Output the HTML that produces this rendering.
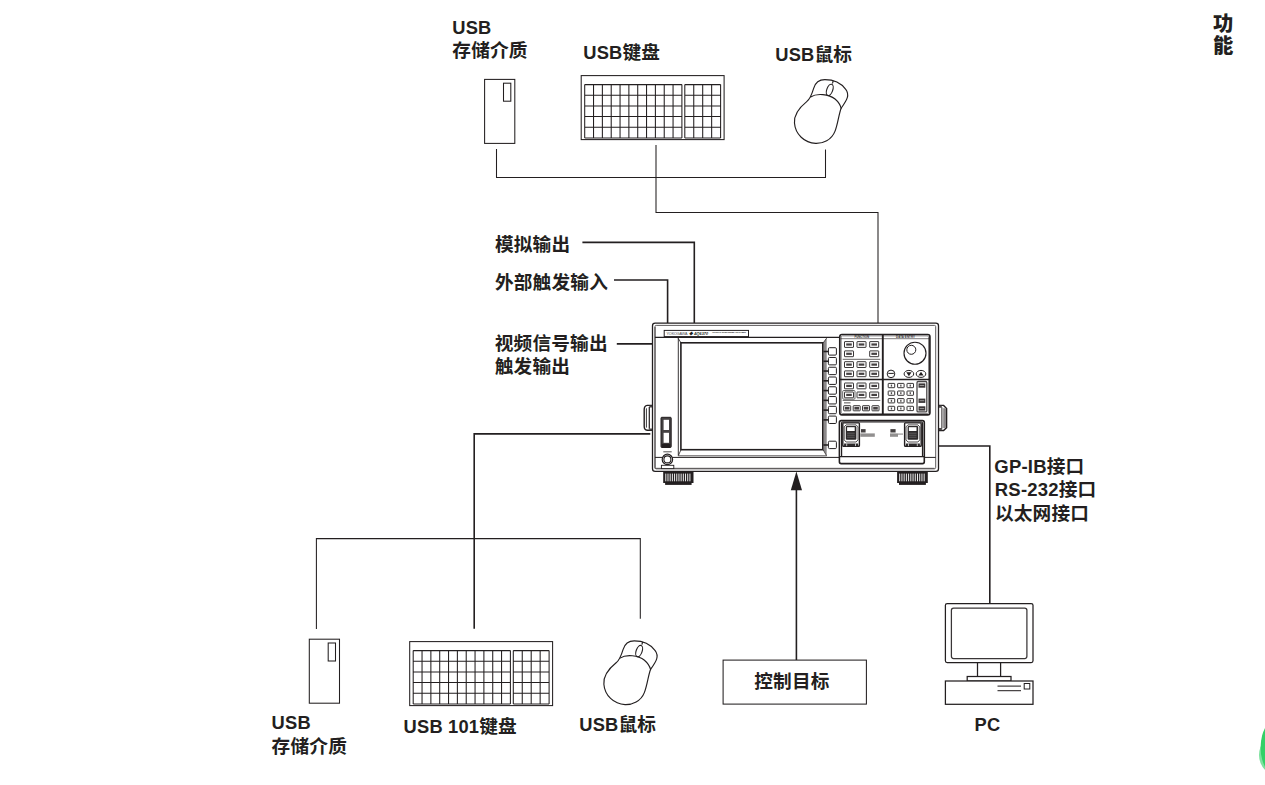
<!DOCTYPE html>
<html lang="zh-CN">
<head>
<meta charset="utf-8">
<title>系统构成</title>
<style>
html,body{margin:0;padding:0;background:#fff;}
body{width:1265px;height:785px;overflow:hidden;position:relative;}
svg{position:absolute;left:0;top:0;display:block;}
.t{font-family:"Liberation Sans","Noto Sans CJK SC",sans-serif;font-weight:bold;font-size:18.67px;fill:#231f20;letter-spacing:0.2px;}
.l{font-size:18.3px;}
.l2{font-size:18.5px;}
.s{stroke:#231f20;fill:none;}
.w{stroke:#231f20;fill:#fff;}
</style>
</head>
<body>
<svg width="1265" height="785" viewBox="0 0 1265 785">

<g class="s" stroke-width="1.05">
<path d="M496.5,149 V177.5 H825.5 V149.5"/>
<path d="M656,145 V212.4 H878 V323"/>
<path d="M316.4,629 V538.6 H640.3 V618.7"/>
</g>
<g class="s" stroke-width="1.6">
<path d="M582.4,242.4 H694.3 V323"/>
<path d="M614,280 H667.6 V323"/>
<path d="M616.8,343.9 H652.5"/>
<path d="M650.3,433.9 H474.2 V628.8"/>
<path d="M938.3,446 H989.8 V603.5"/>
<path d="M796.4,489 V660"/>
</g>
<path d="M796.4,471.4 L802,490.2 H790.8 Z" fill="#231f20"/>
<g class="w" stroke-width="1.05"><rect x="484.6" y="79.4" width="30.2" height="64"/><rect x="503.5" y="83.2" width="7.3" height="18"/></g>
<g class="w" stroke-width="1.05"><rect x="309.3" y="639.2" width="30.2" height="64"/><rect x="328.2" y="643.0" width="7.3" height="18"/></g>
<g class="s" stroke-width="1.05">
<rect x="581.2" y="75.6" width="142.9" height="64" fill="#fff"/>
<path d="M584.70,84.6 v53.3 M593.54,84.6 v53.3 M602.37,84.6 v53.3 M611.21,84.6 v53.3 M620.05,84.6 v53.3 M628.88,84.6 v53.3 M637.72,84.6 v53.3 M646.55,84.6 v53.3 M655.39,84.6 v53.3 M664.23,84.6 v53.3 M673.06,84.6 v53.3 M681.90,84.6 v53.3 M684.80,84.6 v53.3 M693.75,84.6 v53.3 M702.70,84.6 v53.3 M711.65,84.6 v53.3 M720.60,84.6 v53.3 M584.70,84.60 h97.2 M684.80,84.60 h35.8 M584.70,95.26 h97.2 M684.80,95.26 h35.8 M584.70,105.92 h97.2 M684.80,105.92 h35.8 M584.70,116.58 h97.2 M684.80,116.58 h35.8 M584.70,127.24 h97.2 M684.80,127.24 h35.8 M584.70,137.90 h97.2 M684.80,137.90 h35.8"/>
</g>
<g class="s" stroke-width="1.05">
<rect x="409.7" y="641.6" width="142.9" height="64" fill="#fff"/>
<path d="M413.20,650.6 v53.3 M422.04,650.6 v53.3 M430.87,650.6 v53.3 M439.71,650.6 v53.3 M448.55,650.6 v53.3 M457.38,650.6 v53.3 M466.22,650.6 v53.3 M475.05,650.6 v53.3 M483.89,650.6 v53.3 M492.73,650.6 v53.3 M501.56,650.6 v53.3 M510.40,650.6 v53.3 M513.30,650.6 v53.3 M522.25,650.6 v53.3 M531.20,650.6 v53.3 M540.15,650.6 v53.3 M549.10,650.6 v53.3 M413.20,650.60 h97.2 M513.30,650.60 h35.8 M413.20,661.26 h97.2 M513.30,661.26 h35.8 M413.20,671.92 h97.2 M513.30,671.92 h35.8 M413.20,682.58 h97.2 M513.30,682.58 h35.8 M413.20,693.24 h97.2 M513.30,693.24 h35.8 M413.20,703.90 h97.2 M513.30,703.90 h35.8"/>
</g>
<g transform="translate(780,70) scale(0.10194)" class="s" stroke-width="11.3" stroke-linecap="round">
<path fill="#fff" d="M440,95 C520,95 600,130 645,190 C685,245 660,290 600,375 C575,440 570,520 540,600 C505,690 420,722 350,720 C240,715 150,630 142,520 C135,430 200,360 262,310 C300,280 315,230 330,180 C345,130 385,95 440,95 Z"/>
<path d="M300,264 C360,225 480,235 540,285 C575,315 592,345 600,375"/>
<ellipse cx="488" cy="195" rx="29" ry="58" transform="rotate(20 488 195)"/>
<path d="M521,110 L516,128"/>
</g>
<g transform="translate(589.4,631.2) scale(0.10194)" class="s" stroke-width="11.3" stroke-linecap="round">
<path fill="#fff" d="M440,95 C520,95 600,130 645,190 C685,245 660,290 600,375 C575,440 570,520 540,600 C505,690 420,722 350,720 C240,715 150,630 142,520 C135,430 200,360 262,310 C300,280 315,230 330,180 C345,130 385,95 440,95 Z"/>
<path d="M300,264 C360,225 480,235 540,285 C575,315 592,345 600,375"/>
<ellipse cx="488" cy="195" rx="29" ry="58" transform="rotate(20 488 195)"/>
<path d="M521,110 L516,128"/>
</g>
<rect class="w" stroke-width="1.05" x="723.1" y="660.1" width="143.3" height="44"/>
<g class="w" stroke-width="1.25">
<rect x="945.4" y="603.5" width="87.6" height="59" rx="1.8"/>
<rect x="951.4" y="608" width="75.5" height="50.5" rx="2.2" stroke="#3a3637"/>
<path d="M977.5,662.5 V676.5 M1000.6,662.5 V676.5" />
<rect x="967.2" y="676.5" width="43.8" height="4.5"/>
<rect x="945.4" y="681" width="87.6" height="23.3"/>
<path d="M997.5,686 H1021 M997.5,690.6 H1021" stroke="#4a4647"/>
<rect x="1024.2" y="683.5" width="5.6" height="5.5" stroke-width="1"/>
</g><g id="osa">
<g class="w" stroke-width="1.4">
<path d="M653,405.4 H647.2 Q644.2,405.8 644.2,409.6 V426.2 Q644.2,429.9 647.2,430.3 H653 Z"/>
<path d="M649.3,405.6 H652.6 V407.4 H649.3 Z M649.3,428.5 H652.6 V430.2 H649.3 Z" fill="#4a4748" stroke="none"/>
<path d="M646.4,408.3 V427.6" stroke-width="0.9"/>
<path d="M649.3,407 V428.8" stroke-width="1.2"/>
<path d="M937.6,405.4 H943.6 L946.6,408.6 V427.6 L943.6,430.5 H937.6 Z"/>
<path d="M938.2,405.6 H941.8 V407.8 H938.2 Z M938.2,428.1 H941.8 V430.3 H938.2 Z" fill="#4a4748" stroke="none"/>
<path d="M943.2,408.2 H946 V428 H943.2 Z" fill="#8a8788" stroke="none"/>
<path d="M941.9,407.4 V428.5" stroke-width="1"/>
</g>
<rect x="663.2" y="471.4" width="30.299999999999955" height="11.6" fill="#231f20"/>
<rect x="665.1" y="482.5" width="26.499999999999954" height="2.4" fill="#231f20"/>
<path d="M665.80,473.6 V481.3 M667.99,473.6 V481.3 M670.18,473.6 V481.3 M672.38,473.6 V481.3 M674.57,473.6 V481.3 M676.76,473.6 V481.3 M678.95,473.6 V481.3 M681.14,473.6 V481.3 M683.33,473.6 V481.3 M685.53,473.6 V481.3 M687.72,473.6 V481.3 M689.91,473.6 V481.3" stroke="#fff" stroke-width="1" opacity="0.92"/>
<rect x="897.1" y="471.4" width="30.699999999999932" height="11.6" fill="#231f20"/>
<rect x="899.0" y="482.5" width="26.89999999999993" height="2.4" fill="#231f20"/>
<path d="M899.70,473.6 V481.3 M901.93,473.6 V481.3 M904.15,473.6 V481.3 M906.38,473.6 V481.3 M908.60,473.6 V481.3 M910.83,473.6 V481.3 M913.05,473.6 V481.3 M915.27,473.6 V481.3 M917.50,473.6 V481.3 M919.73,473.6 V481.3 M921.95,473.6 V481.3 M924.17,473.6 V481.3" stroke="#fff" stroke-width="1" opacity="0.92"/>
<rect x="652.5" y="323.1" width="286" height="148.3" rx="2.6" class="w" stroke-width="1.3"/>
<path d="M655,327 V467.6 Q655,468.5 656,468.5 H934.6" fill="none" stroke="#8a8788" stroke-width="1.5"/>
<rect x="655" y="325.4" width="280.7" height="143.3" rx="1.2" fill="none" stroke="#555253" stroke-width="0.95"/>
<rect x="664.2" y="330.4" width="84.3" height="6.2" class="w" stroke-width="1"/>
<text x="666.5" y="335.3" style="font-family:'Liberation Sans',sans-serif;font-size:3.7px;fill:#444" textLength="21">YOKOGAWA</text>
<text x="689" y="335" style="font-family:'Liberation Sans',sans-serif;font-size:3.8px;font-weight:bold;font-style:italic;fill:#231f20" textLength="19">◆ AQ6370</text>
<text x="712" y="332.6" style="font-family:'Liberation Sans',sans-serif;font-size:2.4px;font-weight:bold;fill:#231f20" textLength="34">OPTICAL SPECTRUM ANALYZER</text>
<path d="M655,337.4 H839.5" class="s" stroke-width="1.2"/>
<path d="M655,457.4 H935.7" class="s" stroke-width="1" stroke="#3a3738"/>
<path d="M823.5,342.8 L826.7,338 V455.8 L823.5,449.8 Z" fill="#8c898a"/>
<path d="M678.2,455 H826.7 V456.6 H678.2 Z" fill="#8c898a"/>
<path d="M678.3,338 V455.6" class="s" stroke-width="0.9" stroke="#4a4748"/>
<path d="M678.2,338.4 L681,342.8 M678.4,455.4 L681,449.8 M826.6,338.2 L823.2,342.8 M826.5,455.6 L823.2,449.8" class="s" stroke-width="0.8"/>
<rect x="680.9" y="342.8" width="141.9" height="106.9" class="w" stroke-width="1.6"/>
<rect x="828.4" y="347.70" width="8" height="7.4" rx="1.1" class="w" stroke-width="1" stroke="#3c393a"/>
<path d="M823.4,351.50 H828.3" class="s" stroke-width="1.6"/>
<rect x="828.4" y="357.47" width="8" height="7.4" rx="1.1" class="w" stroke-width="1" stroke="#3c393a"/>
<path d="M823.4,361.27 H828.3" class="s" stroke-width="1.6"/>
<rect x="828.4" y="367.24" width="8" height="7.4" rx="1.1" class="w" stroke-width="1" stroke="#3c393a"/>
<path d="M823.4,371.04 H828.3" class="s" stroke-width="1.6"/>
<rect x="828.4" y="377.01" width="8" height="7.4" rx="1.1" class="w" stroke-width="1" stroke="#3c393a"/>
<path d="M823.4,380.81 H828.3" class="s" stroke-width="1.6"/>
<rect x="828.4" y="386.78" width="8" height="7.4" rx="1.1" class="w" stroke-width="1" stroke="#3c393a"/>
<path d="M823.4,390.58 H828.3" class="s" stroke-width="1.6"/>
<rect x="828.4" y="396.55" width="8" height="7.4" rx="1.1" class="w" stroke-width="1" stroke="#3c393a"/>
<path d="M823.4,400.35 H828.3" class="s" stroke-width="1.6"/>
<rect x="828.4" y="406.32" width="8" height="7.4" rx="1.1" class="w" stroke-width="1" stroke="#3c393a"/>
<path d="M823.4,410.12 H828.3" class="s" stroke-width="1.6"/>
<rect x="828.4" y="416.09" width="8" height="7.4" rx="1.1" class="w" stroke-width="1" stroke="#3c393a"/>
<path d="M823.4,419.89 H828.3" class="s" stroke-width="1.6"/>
<rect x="828.4" y="441.20" width="8" height="7.4" rx="1.1" class="w" stroke-width="1" stroke="#3c393a"/>
<path d="M823.4,445.00 H828.3" class="s" stroke-width="1.6"/>
<rect x="839.8" y="334.5" width="90.1" height="80.4" rx="2.2" class="w" stroke-width="1.7"/>
<rect x="841.2" y="335.9" width="87.3" height="77.6" rx="1.2" fill="none" stroke="#6b6869" stroke-width="0.8"/>
<path d="M882.8,334.4 V415" class="s" stroke-width="1.9"/>
<path d="M839.7,379.5 H930" class="s" stroke-width="1.4"/>
<path d="M840.5,338.7 H929.3" class="s" stroke-width="0.6" stroke="#777"/>
<path d="M842.7,359.3 H880.3 M842.7,400.4 H880.3" class="s" stroke-width="0.7" stroke="#444"/>
<text x="854.5" y="338" style="font-family:'Liberation Sans',sans-serif;font-size:2.9px;font-weight:bold;fill:#333" textLength="14.5">FUNCTION</text>
<text x="896" y="338" style="font-family:'Liberation Sans',sans-serif;font-size:2.9px;font-weight:bold;fill:#333" textLength="19">DATA ENTRY</text>
<rect x="844.5" y="341.59999999999997" width="9" height="5.8" rx="0.4" class="w" stroke-width="0.9"/>
<rect x="846.2" y="343.4" width="5.6" height="2.2" fill="#231f20" opacity="0.85"/>
<rect x="857.0" y="341.59999999999997" width="9" height="5.8" rx="0.4" class="w" stroke-width="0.9"/>
<rect x="858.7" y="343.4" width="5.6" height="2.2" fill="#231f20" opacity="0.85"/>
<rect x="869.7" y="341.59999999999997" width="9" height="5.8" rx="0.4" class="w" stroke-width="0.9"/>
<rect x="871.4000000000001" y="343.4" width="5.6" height="2.2" fill="#231f20" opacity="0.85"/>
<rect x="844.5" y="350.9" width="9" height="5.8" rx="0.4" class="w" stroke-width="0.9"/>
<rect x="846.2" y="352.7" width="5.6" height="2.2" fill="#231f20" opacity="0.85"/>
<rect x="869.7" y="350.9" width="9" height="5.8" rx="0.4" class="w" stroke-width="0.9"/>
<rect x="871.4000000000001" y="352.7" width="5.6" height="2.2" fill="#231f20" opacity="0.85"/>
<rect x="844.5" y="361.7" width="9" height="5.8" rx="0.4" class="w" stroke-width="0.9"/>
<rect x="846.2" y="363.5" width="5.6" height="2.2" fill="#231f20" opacity="0.85"/>
<rect x="857.0" y="361.7" width="9" height="5.8" rx="0.4" class="w" stroke-width="0.9"/>
<rect x="858.7" y="363.5" width="5.6" height="2.2" fill="#231f20" opacity="0.85"/>
<rect x="869.7" y="361.7" width="9" height="5.8" rx="0.4" class="w" stroke-width="0.9"/>
<rect x="871.4000000000001" y="363.5" width="5.6" height="2.2" fill="#231f20" opacity="0.85"/>
<rect x="844.5" y="370.9" width="9" height="5.8" rx="0.4" class="w" stroke-width="0.9"/>
<rect x="846.2" y="372.7" width="5.6" height="2.2" fill="#231f20" opacity="0.85"/>
<rect x="857.0" y="370.9" width="9" height="5.8" rx="0.4" class="w" stroke-width="0.9"/>
<rect x="858.7" y="372.7" width="5.6" height="2.2" fill="#231f20" opacity="0.85"/>
<rect x="869.7" y="370.9" width="9" height="5.8" rx="0.4" class="w" stroke-width="0.9"/>
<rect x="871.4000000000001" y="372.7" width="5.6" height="2.2" fill="#231f20" opacity="0.85"/>
<rect x="844.5" y="383.0" width="9" height="5.8" rx="0.4" class="w" stroke-width="0.9"/>
<rect x="846.2" y="384.8" width="5.6" height="2.2" fill="#231f20" opacity="0.85"/>
<rect x="857.0" y="383.0" width="9" height="5.8" rx="0.4" class="w" stroke-width="0.9"/>
<rect x="858.7" y="384.8" width="5.6" height="2.2" fill="#231f20" opacity="0.85"/>
<rect x="869.7" y="383.0" width="9" height="5.8" rx="0.4" class="w" stroke-width="0.9"/>
<rect x="871.4000000000001" y="384.8" width="5.6" height="2.2" fill="#231f20" opacity="0.85"/>
<rect x="842.7" y="390.5" width="12.3" height="8.7" rx="1" fill="#fff" stroke="#555" stroke-width="0.9"/>
<rect x="844.5" y="392.0" width="9" height="5.8" rx="0.4" class="w" stroke-width="0.9"/>
<rect x="846.2" y="393.8" width="5.6" height="2.2" fill="#231f20" opacity="0.85"/>
<rect x="857.0" y="392.0" width="9" height="5.8" rx="0.4" class="w" stroke-width="0.9"/>
<rect x="858.7" y="393.8" width="5.6" height="2.2" fill="#231f20" opacity="0.85"/>
<rect x="869.7" y="392.0" width="9" height="5.8" rx="0.4" class="w" stroke-width="0.9"/>
<rect x="871.4000000000001" y="393.8" width="5.6" height="2.2" fill="#231f20" opacity="0.85"/>
<rect x="843.7" y="405.7" width="7" height="5.1" rx="0.5" class="w" stroke-width="0.9"/>
<rect x="844.9000000000001" y="406.9" width="4.6" height="2.7" fill="#231f20" opacity="0.85"/>
<rect x="853.2" y="405.7" width="7" height="5.1" rx="0.5" class="w" stroke-width="0.9"/>
<rect x="854.4000000000001" y="406.9" width="4.6" height="2.7" fill="#231f20" opacity="0.85"/>
<rect x="862.5" y="405.7" width="7" height="5.1" rx="0.5" class="w" stroke-width="0.9"/>
<rect x="863.7" y="406.9" width="4.6" height="2.7" fill="#231f20" opacity="0.85"/>
<rect x="872" y="405.7" width="7" height="5.1" rx="0.5" class="w" stroke-width="0.9"/>
<rect x="873.2" y="406.9" width="4.6" height="2.7" fill="#231f20" opacity="0.85"/>
<rect x="844" y="402.3" width="6.5" height="1.1" fill="#231f20" opacity="0.7"/>
<circle cx="915" cy="353.2" r="11" class="w" stroke-width="1.15"/>
<circle cx="911.3" cy="349.8" r="4.5" class="w" stroke-width="1"/>
<circle cx="891" cy="373.9" r="3.8" class="w" stroke-width="1"/>
<path d="M888.3,373.4 H893.8" class="s" stroke-width="1"/>
<ellipse cx="908.9" cy="373.9" rx="4.8" ry="3.5" class="w" stroke-width="1"/>
<ellipse cx="921" cy="373.9" rx="4.8" ry="3.5" class="w" stroke-width="1"/>
<path d="M906.3,372.3 H911.5 L908.9,376.2 Z M918.4,375.6 H923.6 L921,371.8 Z" fill="#231f20"/>
<rect x="888.2" y="383.4" width="6.5" height="4.3" rx="0.5" class="w" stroke-width="0.9"/>
<rect x="890.8000000000001" y="384.59999999999997" width="1.3" height="2" fill="#231f20" opacity="0.8"/>
<rect x="897.6" y="383.4" width="6.5" height="4.3" rx="0.5" class="w" stroke-width="0.9"/>
<rect x="900.2" y="384.59999999999997" width="1.3" height="2" fill="#231f20" opacity="0.8"/>
<rect x="907" y="383.4" width="6.5" height="4.3" rx="0.5" class="w" stroke-width="0.9"/>
<rect x="909.6" y="384.59999999999997" width="1.3" height="2" fill="#231f20" opacity="0.8"/>
<rect x="888.2" y="391" width="6.5" height="4.3" rx="0.5" class="w" stroke-width="0.9"/>
<rect x="890.8000000000001" y="392.2" width="1.3" height="2" fill="#231f20" opacity="0.8"/>
<rect x="897.6" y="391" width="6.5" height="4.3" rx="0.5" class="w" stroke-width="0.9"/>
<rect x="900.2" y="392.2" width="1.3" height="2" fill="#231f20" opacity="0.8"/>
<rect x="907" y="391" width="6.5" height="4.3" rx="0.5" class="w" stroke-width="0.9"/>
<rect x="909.6" y="392.2" width="1.3" height="2" fill="#231f20" opacity="0.8"/>
<rect x="888.2" y="398.6" width="6.5" height="4.3" rx="0.5" class="w" stroke-width="0.9"/>
<rect x="890.8000000000001" y="399.8" width="1.3" height="2" fill="#231f20" opacity="0.8"/>
<rect x="897.6" y="398.6" width="6.5" height="4.3" rx="0.5" class="w" stroke-width="0.9"/>
<rect x="900.2" y="399.8" width="1.3" height="2" fill="#231f20" opacity="0.8"/>
<rect x="907" y="398.6" width="6.5" height="4.3" rx="0.5" class="w" stroke-width="0.9"/>
<rect x="909.6" y="399.8" width="1.3" height="2" fill="#231f20" opacity="0.8"/>
<rect x="888.2" y="406.3" width="6.5" height="4.3" rx="0.5" class="w" stroke-width="0.9"/>
<rect x="890.8000000000001" y="407.5" width="1.3" height="2" fill="#231f20" opacity="0.8"/>
<rect x="897.6" y="406.3" width="6.5" height="4.3" rx="0.5" class="w" stroke-width="0.9"/>
<rect x="900.2" y="407.5" width="1.3" height="2" fill="#231f20" opacity="0.8"/>
<rect x="907" y="406.3" width="6.5" height="4.3" rx="0.5" class="w" stroke-width="0.9"/>
<rect x="909.6" y="407.5" width="1.3" height="2" fill="#231f20" opacity="0.8"/>
<rect x="917" y="381.5" width="9.8" height="30.4" rx="1.2" fill="#fff" stroke="#4a4748" stroke-width="1.3"/>
<rect x="918.5" y="383.4" width="6.8" height="4.3" fill="#231f20" opacity="0.9"/>
<path d="M919.6,385.5 h4.6" stroke="#fff" stroke-width="0.7" opacity="0.7"/>
<rect x="918.5" y="398.6" width="6.8" height="4.3" fill="#231f20" opacity="0.9"/>
<path d="M919.6,400.70000000000005 h4.6" stroke="#fff" stroke-width="0.7" opacity="0.7"/>
<rect x="918.5" y="406.3" width="6.8" height="4.3" fill="#231f20" opacity="0.9"/>
<path d="M919.6,408.40000000000003 h4.6" stroke="#fff" stroke-width="0.7" opacity="0.7"/>
<rect x="839.4" y="420.6" width="84.9" height="43" rx="1.8" class="w" stroke-width="1.6"/>
<path d="M841.6,456.6 V423 Q841.6,422 842.6,422 H921.4 Q922.5,422 922.5,423 V456.6" class="s" stroke-width="1.2"/>
<path d="M839.5,456.6 H924.2" class="s" stroke-width="1.1"/>
<rect x="842.8" y="422.9" width="16.6" height="23.4" rx="0.8" class="w" stroke-width="1.4"/>
<path d="M846.1,424.9 h10 l1.9,2 v13 l-1.9,2.1 h-10 l-1.9,-2.1 v-13 Z" fill="#fff" stroke="#231f20" stroke-width="0.8"/>
<rect x="845.8" y="426.1" width="10.6" height="13.6" rx="1" fill="#2d2a2b"/>
<rect x="847.1" y="427.2" width="7.6" height="3.8" fill="#fff"/>
<path d="M847.1,433.2 h7.6 M847.1,435.2 h7.6 M847.1,437.2 h7.6" stroke="#777" stroke-width="0.7" fill="none"/>
<rect x="844.1" y="443.5" width="14" height="2.6" fill="#2d2a2b"/>
<path d="M846.7,443.5 v2.6 M855.5,443.5 v2.6" stroke="#fff" stroke-width="0.7"/>
<rect x="904.5999999999999" y="422.9" width="16.6" height="23.4" rx="0.8" class="w" stroke-width="1.4"/>
<path d="M907.9,424.9 h10 l1.9,2 v13 l-1.9,2.1 h-10 l-1.9,-2.1 v-13 Z" fill="#fff" stroke="#231f20" stroke-width="0.8"/>
<rect x="907.5999999999999" y="426.1" width="10.6" height="13.6" rx="1" fill="#2d2a2b"/>
<rect x="908.9" y="427.2" width="7.6" height="3.8" fill="#fff"/>
<path d="M908.9,433.2 h7.6 M908.9,435.2 h7.6 M908.9,437.2 h7.6" stroke="#777" stroke-width="0.7" fill="none"/>
<rect x="905.9" y="443.5" width="14" height="2.6" fill="#2d2a2b"/>
<path d="M908.5,443.5 v2.6 M917.3,443.5 v2.6" stroke="#fff" stroke-width="0.7"/>
<rect x="861" y="429.1" width="4.6" height="3.4" fill="#231f20" opacity="0.85"/>
<rect x="860.4" y="433.4" width="14.4" height="3.4" fill="#231f20" opacity="0.5"/>
<rect x="890.4" y="429.1" width="5.2" height="3.4" fill="#231f20" opacity="0.85"/>
<rect x="890" y="433.4" width="8" height="3.4" fill="#231f20" opacity="0.5"/>
<rect x="898" y="433.4" width="5" height="1.4" fill="#231f20" opacity="0.4"/>
<rect x="661" y="417.3" width="10.2" height="30.2" rx="0.8" fill="#454243" stroke="#231f20" stroke-width="1"/>
<rect x="663.6" y="419.8" width="5.4" height="10.2" fill="#fff"/>
<rect x="663.6" y="432.8" width="5.4" height="10" fill="#fff"/>
<rect x="661.8" y="443.8" width="8.6" height="3.2" fill="#231f20"/>
<rect x="663.3" y="451.1" width="8.4" height="1.3" fill="#231f20" opacity="0.6"/>
<circle cx="667.4" cy="459.4" r="5.2" class="w" stroke-width="1.2"/>
<circle cx="667.4" cy="459.4" r="3.5" class="w" stroke-width="1.1"/>
<rect x="661.4" y="465.3" width="12.4" height="3.3" class="w" stroke-width="0.9"/>
</g><g id="labels">
<text id="t1" class="t" x="452.3" y="34.4"><tspan class="l">USB</tspan></text>
<text id="t2" class="t" x="452.3" y="56.7">存储介质</text>
<text id="t3" class="t" x="583.3" y="59"><tspan class="l">USB</tspan>键盘</text>
<text id="t4" class="t" x="775.3" y="61"><tspan class="l">USB</tspan>鼠标</text>
<text id="t5" class="t" x="494.9" y="250.5">模拟输出</text>
<text id="t6" class="t" x="494.9" y="288.5">外部触发输入</text>
<text id="t7" class="t" x="494.7" y="349.6">视频信号输出</text>
<text id="t8" class="t" x="494.7" y="372.8">触发输出</text>
<text id="t9" class="t" x="994.3" y="472.7"><tspan class="l2">GP-IB</tspan>接口</text>
<text id="t10" class="t" x="994.8" y="496.4"><tspan class="l2">RS-232</tspan>接口</text>
<text id="t11" class="t" x="994.9" y="520">以太网接口</text>
<text id="t12" class="t" x="754.2" y="688">控制目标</text>
<text id="t13" class="t" x="974.5" y="731"><tspan class="l">PC</tspan></text>
<text id="t14" class="t" x="271.6" y="729.3"><tspan class="l">USB</tspan></text>
<text id="t15" class="t" x="271.6" y="752.5">存储介质</text>
<text id="t16" class="t" x="403.6" y="732.5"><tspan class="l">USB 101</tspan>键盘</text>
<text id="t17" class="t" x="579.3" y="731"><tspan class="l">USB</tspan>鼠标</text>
<text id="t18" class="t" x="1213" y="31.3" style="font-size:20.3px;font-weight:900;letter-spacing:0">功</text>
<text id="t19" class="t" x="1213" y="52.6" style="font-size:20.3px;font-weight:900;letter-spacing:0">能</text>
</g>
<g id="blob"><ellipse cx="1279" cy="755" rx="20" ry="21" fill="#7ee2a0"/><ellipse cx="1280.6" cy="747.4" rx="20" ry="31" fill="#33d067"/></g>
</svg>
</body>
</html>
